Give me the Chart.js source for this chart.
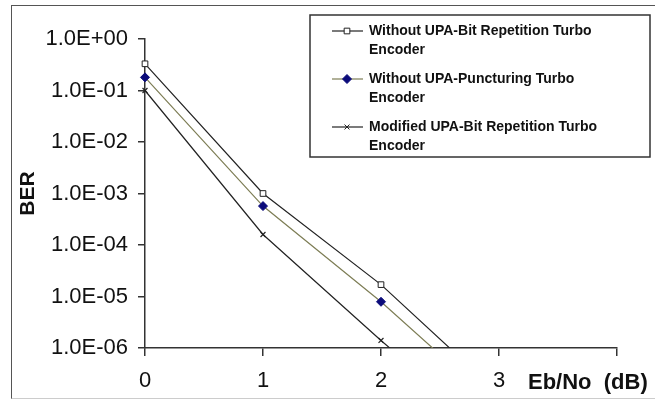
<!DOCTYPE html>
<html>
<head>
<meta charset="utf-8">
<script src="https://cdn.jsdelivr.net/npm/chart.js@4"></script>
<style>
  html, body { margin: 0; padding: 0; background: #fff; }
  #wrap { position: relative; width: 655px; height: 402px; overflow: hidden; }
  #frame { position: absolute; left: 11px; top: 5px; width: 660px; height: 394px;
           border: 1.5px solid #555; border-bottom-color: #ccc; box-sizing: border-box; }
  canvas { position: absolute; left: 0; top: 0; }
</style>
</head>
<body>
<div id="wrap">
  <div id="frame"></div>
  <canvas id="berChart" width="655" height="402"></canvas>
</div>
<script>
// data
const ebNo = [0, 1, 2, 3];
const bitRepetition = [0.33, 1.0e-3, 1.7e-5, 1.3e-7];
const puncturing = [0.18, 5.7e-4, 7.9e-6, 7.0e-8];
const modifiedBitRep = [0.1, 1.6e-4, 1.4e-6, 1.5e-8];

const xTickLabels = ['0', '1', '2', '3', ''];
const yTickValues = [1e-6, 1e-5, 1e-4, 1e-3, 1e-2, 1e-1, 1];
const yTickLabels = ['1.0E-06', '1.0E-05', '1.0E-04', '1.0E-03', '1.0E-02', '1.0E-01', '1.0E+00'];

const seriesNames = [
  ['Without UPA-Bit Repetition Turbo', 'Encoder'],
  ['Without UPA-Puncturing Turbo', 'Encoder'],
  ['Modified UPA-Bit Repetition Turbo', 'Encoder']
];

const pts = ys => ebNo.map((x, i) => ({ x: x, y: ys[i] }));
const clipArea = { left: 10, top: 10, right: 0, bottom: 0 };

// legend box drawn in the top right corner
const boxLegend = {
  id: 'boxLegend',
  afterDraw(chart) {
    const ctx = chart.ctx;
    const x0 = 310, y0 = 15, w = 340, h = 142;
    ctx.save();
    ctx.fillStyle = '#fff';
    ctx.fillRect(x0, y0, w, h);
    ctx.strokeStyle = '#333';
    ctx.lineWidth = 1.5;
    ctx.strokeRect(x0, y0, w, h);
    ctx.font = 'bold 14px "Liberation Sans", Arial, sans-serif';
    ctx.textBaseline = 'middle';
    chart.data.datasets.forEach((ds, i) => {
      const cy = 31 + i * 48;
      ctx.strokeStyle = ds.borderColor;
      ctx.lineWidth = 1.2;
      ctx.beginPath();
      ctx.moveTo(332, cy);
      ctx.lineTo(363, cy);
      ctx.stroke();
      ctx.fillStyle = ds.pointBackgroundColor;
      ctx.strokeStyle = ds.pointBorderColor;
      ctx.lineWidth = 1;
      Chart.helpers.drawPoint(ctx, {
        pointStyle: ds.pointStyle, radius: ds.pointRadius, borderWidth: 1
      }, 347, cy);
      ctx.fillStyle = '#111';
      seriesNames[i].forEach((line, j) => ctx.fillText(line, 369, cy + j * 19.5));
    });
    ctx.restore();
  }
};

// x axis name sits on the tick-label row, right of the "3"
const axisName = {
  id: 'axisName',
  afterDraw(chart) {
    const ctx = chart.ctx;
    ctx.save();
    ctx.font = 'bold 22px "Liberation Sans", Arial, sans-serif';
    ctx.fillStyle = '#111';
    ctx.textBaseline = 'middle';
    ctx.textAlign = 'left';
    ctx.fillText('Eb/No  (dB)', 528, 383);
    ctx.restore();
  }
};

const ctx = document.getElementById('berChart').getContext('2d');
new Chart(ctx, {
  type: 'line',
  data: {
    datasets: [{
      label: seriesNames[0].join(' '),
      data: pts(bitRepetition),
      borderColor: '#222',
      borderWidth: 1.2,
      pointStyle: 'rect',
      pointRadius: 4,
      pointBackgroundColor: '#fff',
      pointBorderColor: '#222',
      pointBorderWidth: 1,
      clip: clipArea
    }, {
      label: seriesNames[1].join(' '),
      data: pts(puncturing),
      borderColor: '#7d7d55',
      borderWidth: 1.2,
      pointStyle: 'rectRot',
      pointRadius: 4.5,
      pointBackgroundColor: '#0b0b7a',
      pointBorderColor: '#0b0b7a',
      pointBorderWidth: 1,
      clip: clipArea
    }, {
      label: seriesNames[2].join(' '),
      data: pts(modifiedBitRep),
      borderColor: '#222',
      borderWidth: 1.2,
      pointStyle: 'crossRot',
      pointRadius: 3.5,
      pointBackgroundColor: '#222',
      pointBorderColor: '#222',
      pointBorderWidth: 1.2,
      clip: clipArea
    }]
  },
  options: {
    responsive: false,
    animation: false,
    layout: { padding: { left: 12, top: 39, right: 38, bottom: 0 } },
    plugins: {
      legend: { display: false },
      tooltip: { enabled: false }
    },
    scales: {
      x: {
        type: 'linear',
        min: 0,
        max: 4,
        afterBuildTicks: s => { s.ticks = xTickLabels.map((t, i) => ({ value: i })); },
        afterFit: s => { s.height = 54; },
        ticks: {
          callback: (v, i) => xTickLabels[i],
          color: '#111',
          padding: 12,
          maxRotation: 0,
          font: { family: '"Liberation Sans", Arial, sans-serif', size: 22 }
        },
        grid: { drawOnChartArea: false, tickLength: 8, color: '#333', lineWidth: 1.5 },
        border: { color: '#333', width: 1.5 }
      },
      y: {
        type: 'logarithmic',
        min: 1e-6,
        max: 1,
        afterBuildTicks: s => { s.ticks = yTickValues.map(v => ({ value: v })); },
        afterFit: s => { s.width = 133; },
        title: {
          display: true,
          text: 'BER',
          color: '#111',
          padding: { top: 4, bottom: 0 },
          font: { family: '"Liberation Sans", Arial, sans-serif', size: 21, weight: 'bold' }
        },
        ticks: {
          callback: (v, i) => yTickLabels[i],
          color: '#111',
          padding: 10,
          font: { family: '"Liberation Sans", Arial, sans-serif', size: 22 }
        },
        grid: { drawOnChartArea: false, tickLength: 7, color: '#333', lineWidth: 1.5 },
        border: { color: '#333', width: 1.5 }
      }
    }
  },
  plugins: [boxLegend, axisName]
});
</script>
</body>
</html>
